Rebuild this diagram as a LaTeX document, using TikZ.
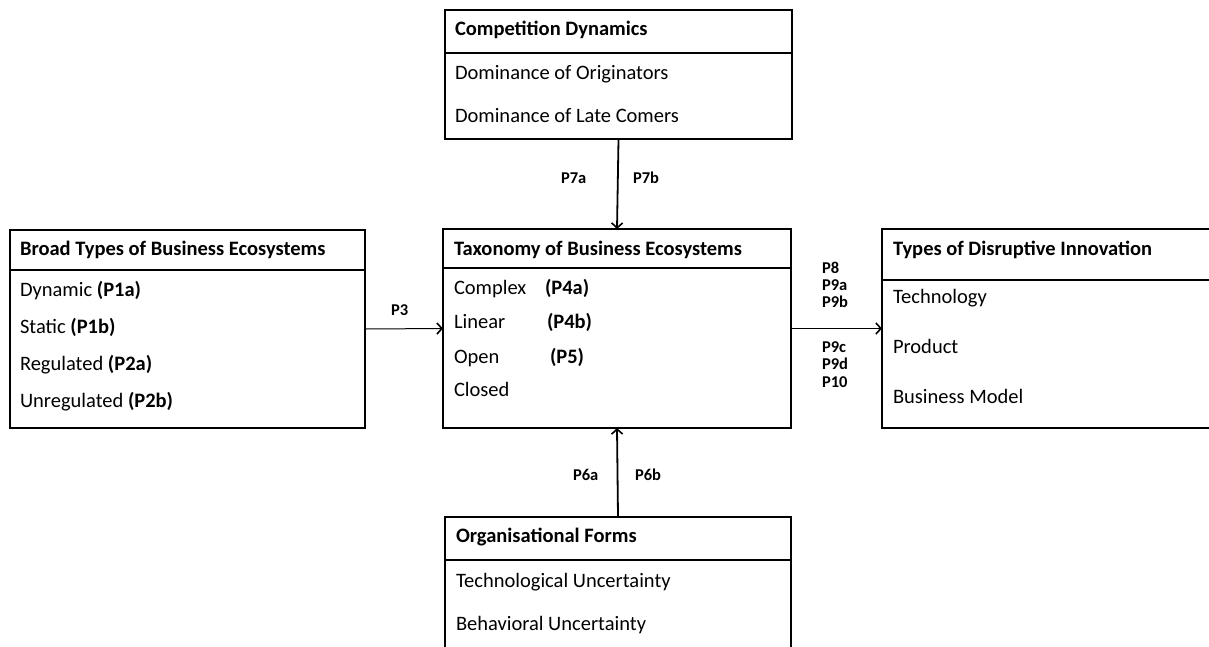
\documentclass[tikz,border=0pt]{standalone}
\usepackage{fontspec}
\setmainfont{Carlito}
\usetikzlibrary{arrows.meta,positioning}

\begin{document}
\begin{tikzpicture}[x=1pt,y=-1pt,
    every node/.style={inner sep=0pt,outer sep=0pt},
    frame/.style={draw,line width=1.3pt,anchor=north west},
    head/.style={anchor=base west,font=\fontsize{20.5}{22}\selectfont\bfseries},
    item/.style={anchor=base west,font=\fontsize{20.5}{22}\selectfont},
    plab/.style={anchor=base west,font=\fontsize{16.5}{18}\selectfont\bfseries},
    arr/.style={-{Straight Barb[length=5pt,width=11pt,line width=1.6pt]},line width=1.8pt}]
  \useasboundingbox (0,0) rectangle (1209,646);
  \clip (0,0) rectangle (1209,646);
  % boxes
  \node[frame,minimum width=347pt,minimum height=129pt] (compet) at (445,10) {};
  \node[frame,minimum width=355pt,minimum height=198pt] (broad) at (10,230) {};
  \node[frame,minimum width=348pt,minimum height=199pt] (taxo) at (443,229) {};
  \node[frame,minimum width=360pt,minimum height=199pt] (disrupt) at (882,229) {};
  \node[frame,minimum width=346pt,minimum height=160pt] (orgforms) at (445,517) {};
  % header lines
  \draw[line width=1.3pt] ([yshift=-43pt]compet.north west) -- ([yshift=-43pt]compet.north east);
  \draw[line width=1.3pt] ([yshift=-40pt]broad.north west) -- ([yshift=-40pt]broad.north east);
  \draw[line width=1.3pt] ([yshift=-39pt]taxo.north west) -- ([yshift=-39pt]taxo.north east);
  \draw[line width=1.3pt] ([yshift=-51pt]disrupt.north west) -- ([yshift=-51pt]disrupt.north east);
  \draw[line width=1.3pt] ([yshift=-43pt]orgforms.north west) -- ([yshift=-43pt]orgforms.north east);
  % texts
  \node[head] (competh) at (455,35) {Competition Dynamics};
  \node[item] (orig) at (455,79) {Dominance of Originators};
  \node[item] (late) at (455,122) {Dominance of Late Comers};
  \node[head] (broadh) at (20,255) {Broad Types of Business Ecosystems};
  \node[item] (dyn) at (20,296) {Dynamic \textbf{(P1a)}};
  \node[item] (stat) at (20,333) {Static \textbf{(P1b)}};
  \node[item] (reg) at (20,370) {Regulated \textbf{(P2a)}};
  \node[item] (unreg) at (20,407) {Unregulated \textbf{(P2b)}};
  \node[head] (taxoh) at (454,255) {Taxonomy of Business Ecosystems};
  \node[item] (cplx) at (454,294) {Complex};
  \node[item] (lin) at (454,328) {Linear};
  \node[item] (open) at (454,363) {Open};
  \node[item] (closed) at (454,396) {Closed};
  \node[head] (pfoura) at (545,294) {(P4a)};
  \node[head] (pfourb) at (547,328) {(P4b)};
  \node[head] (pfive) at (550,363) {(P5)};
  \node[head] (disrupth) at (893,255) {Types of Disruptive Innovation};
  \node[item] (tech) at (893,303) {Technology};
  \node[item] (prod) at (893,353) {Product};
  \node[item] (bmodel) at (893,403) {Business Model};
  \node[head] (orgh) at (456,542) {Organisational Forms};
  \node[item] (techu) at (456,587) {Technological Uncertainty};
  \node[item] (behu) at (456,630) {Behavioral Uncertainty};
  % connectors
  \draw[arr] (compet.south) -- (taxo.north);
  \draw[arr] (orgforms.north) -- (taxo.south);
  \draw[arr,line width=1pt] (broad.east) -- (taxo.west);
  \draw[arr] (taxo.east) -- (disrupt.west);
  % propositions
  \node[plab] (psevena) at (561,183) {P7a};
  \node[plab] (psevenb) at (633,183) {P7b};
  \node[plab] (psixa) at (573,480) {P6a};
  \node[plab] (psixb) at (635,480) {P6b};
  \node[plab] (pthree) at (391,315) {P3};
  \node[plab] (peight) at (822,273) {P8};
  \node[plab] (pninea) at (822,290) {P9a};
  \node[plab] (pnineb) at (822,307) {P9b};
  \node[plab] (pninec) at (822,352) {P9c};
  \node[plab] (pnined) at (822,369) {P9d};
  \node[plab] (pten) at (822,387) {P10};
\end{tikzpicture}
\end{document}
